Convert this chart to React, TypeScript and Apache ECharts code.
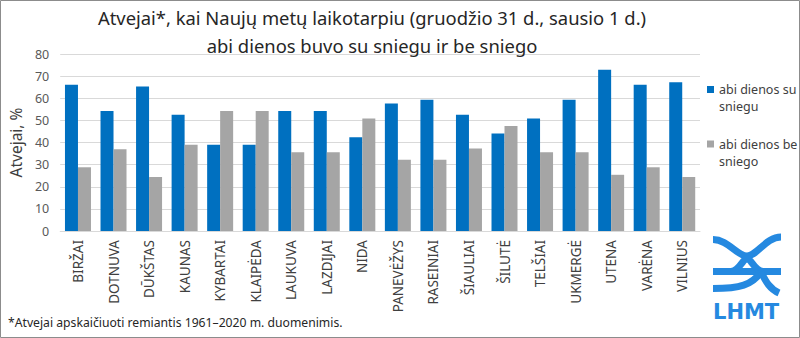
import React, { useEffect, useRef } from "react";
import * as echarts from "echarts";

const categories = [
  "BIRŽAI", "DOTNUVA", "DŪKŠTAS", "KAUNAS", "KYBARTAI", "KLAIPĖDA",
  "LAUKUVA", "LAZDIJAI", "NIDA", "PANEVĖŽYS", "RASEINIAI", "ŠIAULIAI",
  "ŠILUTĖ", "TELŠIAI", "UKMERGĖ", "UTENA", "VARĖNA", "VILNIUS",
];
const withSnow = [66.1, 54.2, 65.3, 52.5, 39.0, 39.0, 54.2, 54.2, 42.4, 57.6, 59.3, 52.5, 44.1, 50.8, 59.3, 72.9, 66.1, 67.2];
const withoutSnow = [28.8, 37.0, 24.4, 39.0, 54.2, 54.2, 35.6, 35.6, 50.8, 32.2, 32.2, 37.3, 47.5, 35.6, 35.6, 25.4, 28.8, 24.4];
const seriesNames = ["abi dienos su sniegu", "abi dienos be sniego"];
const legendLines: Record<string, string[]> = {
  "abi dienos su sniegu": ["abi dienos su", "sniegu"],
  "abi dienos be sniego": ["abi dienos be", "sniego"],
};
const titleText = "Atvejai*, kai Naujų metų laikotarpiu (gruodžio 31 d., sausio 1 d.)\nabi dienos buvo su sniegu ir be sniego";
const yAxisName = "Atvejai, %";
const footnote = "*Atvejai apskaičiuoti remiantis 1961–2020 m. duomenimis.";

const FONT = "'Noto Sans', 'DejaVu Sans', sans-serif";
const LOGO = "#2589e0";

export default function App() {
  const ref = useRef<HTMLDivElement>(null);
  useEffect(() => {
    if (!ref.current) return;
    const chart = echarts.init(ref.current, undefined, { renderer: "svg" });
    const stroke = { stroke: LOGO, lineWidth: 7, fill: null as any };
    chart.setOption({
      animation: false,
      backgroundColor: "#ffffff",
      textStyle: { fontFamily: FONT },
      title: {
        text: titleText,
        left: 372,
        textAlign: "center",
        top: 3,
        padding: 0,
        textStyle: { fontSize: 18.4, fontWeight: "normal", color: "#262626", lineHeight: 28, fontFamily: FONT },
      },
      legend: {
        orient: "vertical",
        left: 707,
        top: 66,
        padding: 0,
        itemWidth: 7,
        itemHeight: 7,
        itemGap: 7.5,
        icon: "rect",
        data: seriesNames,
        formatter: (n: string) => {
          const l = legendLines[n] || [n, ""];
          return "{e| }\n{a|" + l[0] + "}\n{a|" + l[1] + "}";
        },
        textStyle: {
          fontSize: 12.5,
          color: "#404040",
          fontFamily: FONT,
          rich: {
            e: { lineHeight: 17, fontSize: 12.5, fontFamily: FONT },
            a: { lineHeight: 17, fontSize: 12.5, color: "#404040", fontFamily: FONT },
          },
        },
      },
      grid: { left: 59.5, right: 100, top: 54, bottom: 107 },
      xAxis: {
        type: "category",
        data: categories,
        axisLine: { lineStyle: { color: "#d9d9d9" } },
        axisTick: { show: false },
        axisLabel: { interval: 0, rotate: 90, margin: 9, fontSize: 13.5, color: "#404040", fontFamily: FONT },
      },
      yAxis: {
        type: "value",
        min: 0,
        max: 80,
        interval: 10,
        name: yAxisName,
        nameLocation: "middle",
        nameGap: 36,
        nameTextStyle: { fontSize: 15.5, color: "#404040", fontFamily: FONT },
        axisLine: { show: false },
        axisTick: { show: false },
        splitLine: { lineStyle: { color: "#d9d9d9" } },
        axisLabel: { fontSize: 12.5, color: "#595959", margin: 11, fontFamily: FONT },
      },
      series: [
        { name: seriesNames[0], type: "bar", data: withSnow, barWidth: 13, barGap: "0%", itemStyle: { color: "#0070c0" } },
        { name: seriesNames[1], type: "bar", data: withoutSnow, barWidth: 13, barGap: "0%", itemStyle: { color: "#a5a5a5" } },
      ],
      graphic: [
        {
          type: "rect",
          shape: { x: 0.5, y: 0.5, width: 799, height: 337 },
          style: { fill: null, stroke: "#8c8c8c", lineWidth: 1 },
          silent: true,
        },
        {
          type: "text",
          left: 8,
          top: 316,
          style: { text: footnote, fontSize: 12.2, fill: "#262626", fontFamily: FONT },
        },
        {
          type: "group",
          silent: true,
          children: [
            { type: "bezierCurve", shape: { x1: 713, y1: 239.5, cpx1: 728, cpy1: 239.5, cpx2: 737, cpy2: 256, x2: 747, y2: 256 }, style: stroke },
            { type: "bezierCurve", shape: { x1: 781, y1: 237, cpx1: 766, cpy1: 237, cpx2: 757, cpy2: 256, x2: 747, y2: 256 }, style: stroke },
            { type: "line", shape: { x1: 713, y1: 271.5, x2: 781, y2: 271.5 }, style: stroke },
            { type: "bezierCurve", shape: { x1: 731, y1: 271.5, cpx1: 740, cpy1: 271, cpx2: 742, cpy2: 259, x2: 747, y2: 259 }, style: stroke },
            { type: "bezierCurve", shape: { x1: 763, y1: 271.5, cpx1: 754, cpy1: 271, cpx2: 752, cpy2: 259, x2: 747, y2: 259 }, style: stroke },
            { type: "bezierCurve", shape: { x1: 713, y1: 288.5, cpx1: 740, cpy1: 288.5, cpx2: 752, cpy2: 285, x2: 761, y2: 272 }, style: stroke },
            { type: "bezierCurve", shape: { x1: 761, y1: 272, cpx1: 766, cpy1: 282, cpx2: 770, cpy2: 289, x2: 779, y2: 293 }, style: stroke },
            {
              type: "text",
              x: 713,
              y: 301,
              style: { text: "LHMT", fontSize: 21, fontWeight: "bold", fill: LOGO, fontFamily: "'DejaVu Sans', sans-serif" },
            },
          ],
        },
      ],
    });
    return () => chart.dispose();
  }, []);
  return <div ref={ref} style={{ position: "fixed", left: 0, top: 0, width: 800, height: 338 }} />;
}
